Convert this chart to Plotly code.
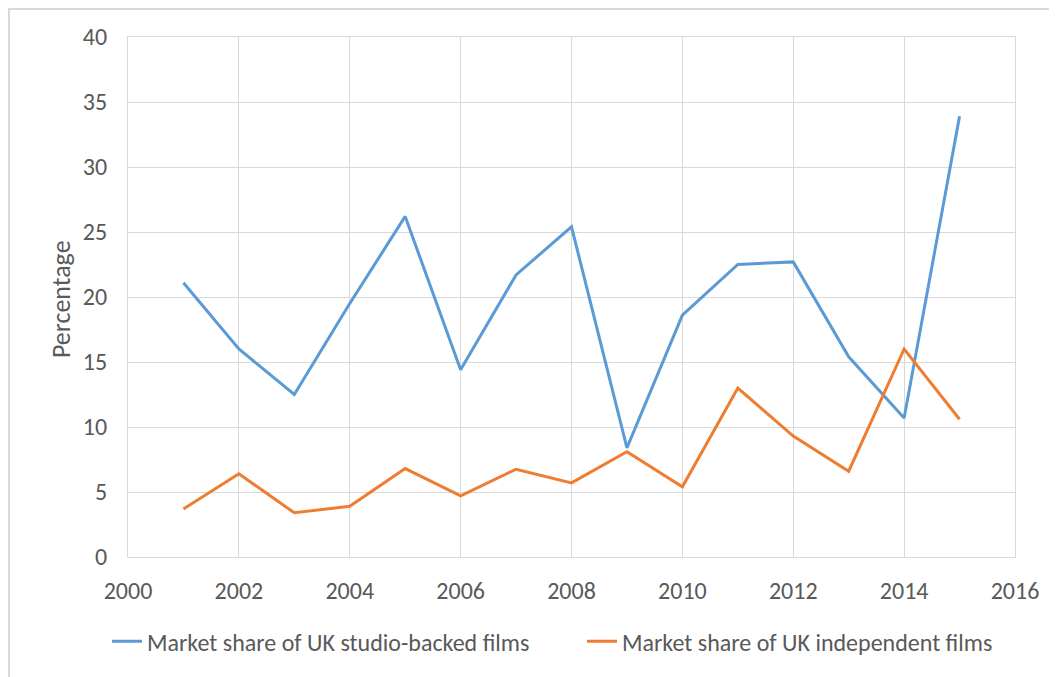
import plotly.graph_objects as go

years = list(range(2001, 2016))
studio_backed = [21.1, 16.0, 12.5, 19.5, 26.2, 14.4, 21.7, 25.4, 8.4, 18.6, 22.5, 22.7, 15.4, 10.7, 33.9]
independent = [3.7, 6.4, 3.4, 3.9, 6.8, 4.7, 6.75, 5.7, 8.1, 5.4, 13.0, 9.3, 6.6, 16.0, 10.6]
series_names = ["Market share of UK studio-backed films", "Market share of UK independent films"]
x_ticks = list(range(2000, 2017, 2))
y_ticks = list(range(0, 41, 5))

FONT = "Carlito, Calibri, Liberation Sans, Arial, sans-serif"
GREY = "#595959"
GRID = "#D9D9D9"

fig = go.Figure()
fig.add_trace(go.Scatter(x=years, y=studio_backed, mode="lines", name=series_names[0],
                         line=dict(color="#5B9BD5", width=3)))
fig.add_trace(go.Scatter(x=years, y=independent, mode="lines", name=series_names[1],
                         line=dict(color="#ED7D31", width=3)))

fig.update_layout(
    width=1049, height=669,
    margin=dict(l=120, r=42, t=29, b=120),
    paper_bgcolor="white", plot_bgcolor="white",
    font=dict(family=FONT, color=GREY, size=24),
    showlegend=True,
    legend=dict(orientation="h", x=-0.0237, xanchor="left", y=-0.163, yanchor="middle",
                font=dict(size=24, color=GREY), itemwidth=30, tracegroupgap=0,
                entrywidth=430, entrywidthmode="pixels"),
    xaxis=dict(range=[2000, 2016], tickvals=x_ticks, showgrid=True, gridcolor=GRID, gridwidth=1,
               zeroline=False, showline=True, linecolor=GRID, linewidth=1, mirror=True,
               ticks="", ticklabelstandoff=12, tickfont=dict(size=24, color=GREY)),
    yaxis=dict(range=[0, 40], tickvals=y_ticks, showgrid=True, gridcolor=GRID, gridwidth=1,
               zeroline=False, showline=True, linecolor=GRID, linewidth=1, mirror=True,
               ticks="", ticklabelstandoff=15, tickfont=dict(size=24, color=GREY)),
    annotations=[dict(text="Percentage", xref="paper", yref="paper", x=-0.0755, y=0.496,
                      xanchor="center", yanchor="middle", textangle=-90, showarrow=False,
                      font=dict(size=26, color=GREY, family=FONT))],
    shapes=[dict(type="rect", xref="paper", yref="paper", x0=-0.1342, x1=1.06, y0=-0.25, y1=1.0538,
                 line=dict(color=GRID, width=2), fillcolor="rgba(0,0,0,0)", layer="below")],
)

fig.write_html("out.html")
